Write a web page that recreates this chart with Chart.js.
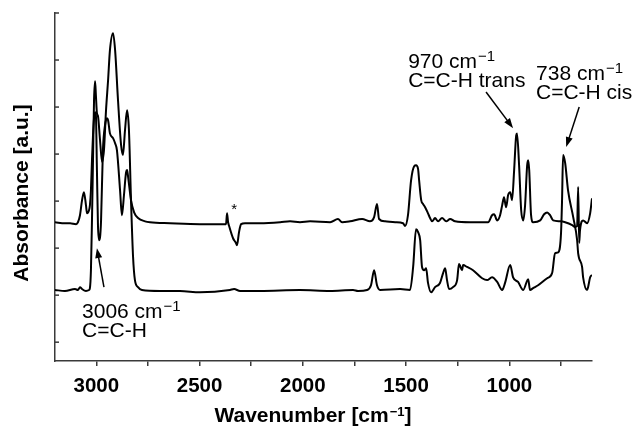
<!DOCTYPE html>
<html>
<head>
<meta charset="utf-8">
<script src="https://cdn.jsdelivr.net/npm/chart.js@4/dist/chart.umd.min.js"></script>
<style>
  body { margin: 0; background: #fff; }
  canvas { display: block; }
</style>
</head>
<body>
<canvas id="spectrum" width="637" height="429"></canvas>
<script>
// Нижний спектр (цис): волновое число, см-1 и поглощение, отн. ед.
const lowerWavenumber = [3200, 3152, 3103, 3089, 3079, 3069, 3050, 3035, 3031, 3026,
    3021, 3016, 3011, 3006, 3002, 2997, 2992, 2982, 2972, 2968,
    2963, 2953, 2943, 2934, 2919, 2909, 2895, 2880, 2871, 2861,
    2851, 2842, 2832, 2822, 2813, 2798, 2779, 2692, 2595, 2498,
    2353, 2333, 2304, 2207, 2014, 1868, 1757, 1733, 1689, 1670,
    1655, 1641, 1626, 1529, 1481, 1466, 1452, 1442, 1432, 1423,
    1413, 1403, 1394, 1379, 1360, 1336, 1321, 1311, 1302, 1292,
    1273, 1253, 1244, 1229, 1224, 1205, 1176, 1132, 1108, 1084,
    1059, 1035, 1021, 996, 982, 958, 933, 909, 900, 885,
    861, 817, 793, 779, 764, 750, 745, 740, 730, 716,
    691, 672, 667, 648, 643, 624, 619, 609, 600];
const lowerAbsorbance = [1.11, 1.09, 1.13, 1.11, 1.17, 1.13, 1.09, 1.11, 1.15, 1.53,
    2.59, 3.87, 5.15, 5.55, 5.25, 4.87, 4.81, 4.30, 3.83, 3.91,
    4.08, 4.93, 5.57, 6.21, 6.57, 6.21, 5.15, 4.19, 3.98, 4.51,
    4.93, 4.51, 3.02, 1.81, 1.32, 1.17, 1.11, 1.09, 1.09, 1.06,
    1.11, 1.13, 1.09, 1.09, 1.11, 1.09, 1.11, 1.09, 1.11, 1.21,
    1.53, 1.21, 1.11, 1.13, 1.11, 1.60, 2.40, 2.34, 2.17, 1.60,
    1.53, 1.57, 1.26, 1.06, 1.17, 1.26, 1.47, 1.57, 1.32, 1.13,
    1.17, 1.32, 1.66, 1.53, 1.64, 1.60, 1.53, 1.36, 1.32, 1.38,
    1.28, 1.11, 1.26, 1.64, 1.38, 1.28, 1.11, 1.34, 1.11, 1.15,
    1.21, 1.36, 1.47, 1.89, 1.91, 2.32, 3.02, 3.98, 3.81, 3.23,
    2.66, 2.17, 1.89, 1.60, 1.38, 1.11, 1.17, 1.38, 1.43];

// Верхний спектр (транс)
const upperWavenumber = [3200, 3152, 3127, 3098, 3089, 3079, 3069, 3060, 3050, 3045,
    3035, 3031, 3026, 3021, 3016, 3011, 3006, 3002, 2997, 2992,
    2987, 2982, 2977, 2968, 2958, 2948, 2943, 2934, 2919, 2909,
    2900, 2885, 2876, 2866, 2856, 2851, 2847, 2832, 2817, 2798,
    2764, 2740, 2643, 2498, 2372, 2367, 2362, 2357, 2338, 2324,
    2319, 2309, 2299, 2280, 2207, 2110, 2062, 2014, 1965, 1868,
    1830, 1810, 1771, 1713, 1675, 1655, 1641, 1631, 1602, 1553,
    1515, 1505, 1491, 1476, 1461, 1452, 1442, 1437, 1427, 1418,
    1408, 1394, 1384, 1374, 1360, 1345, 1326, 1306, 1287, 1263,
    1190, 1142, 1103, 1084, 1074, 1059, 1045, 1035, 1026, 1016,
    1006, 996, 987, 977, 967, 963, 953, 943, 933, 924,
    914, 909, 904, 895, 885, 851, 832, 817, 803, 788,
    754, 730, 696, 682, 672, 667, 662, 658, 643, 624,
    609, 600];
const upperAbsorbance = [2.55, 2.53, 2.53, 2.51, 2.55, 2.70, 3.02, 3.19, 2.91, 2.74,
    2.81, 2.91, 3.23, 3.87, 4.40, 4.76, 4.89, 4.83, 3.66, 2.49,
    2.17, 2.23, 2.59, 4.08, 4.61, 4.76, 4.72, 4.44, 4.34, 4.23,
    4.08, 3.23, 2.70, 3.13, 3.61, 3.66, 3.55, 3.02, 2.76, 2.64,
    2.57, 2.55, 2.53, 2.51, 2.51, 2.74, 2.55, 2.47, 2.21, 2.11,
    2.06, 2.34, 2.51, 2.53, 2.53, 2.55, 2.57, 2.55, 2.57, 2.55,
    2.62, 2.55, 2.57, 2.62, 2.57, 2.66, 2.94, 2.62, 2.57, 2.55,
    2.53, 2.47, 2.70, 3.44, 3.74, 3.76, 3.68, 3.44, 3.02, 2.94,
    2.87, 2.74, 2.64, 2.57, 2.64, 2.57, 2.64, 2.57, 2.62, 2.57,
    2.55, 2.55, 2.55, 2.70, 2.72, 2.59, 2.70, 2.91, 3.08, 2.87,
    3.13, 3.19, 3.02, 3.66, 4.40, 4.44, 3.76, 2.81, 2.59, 2.91,
    3.76, 3.87, 3.66, 2.70, 2.55, 2.59, 2.72, 2.76, 2.70, 2.59,
    2.57, 2.55, 2.49, 2.45, 2.47, 3.30, 2.11, 2.38, 2.59, 2.53,
    2.74, 3.06];

// Подписи пиков (первая строка, вторая строка, точка привязки)
const noteHeads = ["970 cm", "738 cm", "3006 cm"];
const noteNames = ["C=C-H trans", "C=C-H cis", "C=C-H"];
const noteWavenumber = [1490, 871, 3069];
const noteAbsorbance = [5.83, 5.57, 0.51];

// Стрелки: откуда и куда
const arrowFromWavenumber = [1113, 662, 2963];
const arrowFromAbsorbance = [5.32, 5.00, 1.17];
const arrowToWavenumber = [982, 725, 2997];
const arrowToAbsorbance = [4.55, 4.15, 2.00];

// Звёздочка у полосы CO2
const starWavenumber = 2333;
const starAbsorbance = 2.87;

const FONT = '"Liberation Sans", Arial, sans-serif';
const AXIS_COLOR = "#3a3a3a";
const SUP = "\u22121";

function toPoints(xs, ys) {
    return xs.map((x, i) => ({ x: x, y: ys[i] }));
}

// Текст с верхним индексом, возвращает ширину
function drawWithSup(ctx, base, tail, x, y, size, supSize, rise, weight, measureOnly) {
    ctx.font = `${weight} ${size}px ${FONT}`;
    let w = ctx.measureText(base).width;
    if (!measureOnly) ctx.fillText(base, x, y);
    ctx.font = `${weight} ${supSize}px ${FONT}`;
    if (!measureOnly) ctx.fillText(SUP, x + w + 1, y - rise);
    w += ctx.measureText(SUP).width + 1;
    if (tail) {
        ctx.font = `${weight} ${size}px ${FONT}`;
        if (!measureOnly) ctx.fillText(tail, x + w, y);
        w += ctx.measureText(tail).width;
    }
    return w;
}

function drawArrow(ctx, x1, y1, x2, y2) {
    const a = Math.atan2(y2 - y1, x2 - x1);
    const head = 10, half = 3.5;
    const c = Math.cos(a), s = Math.sin(a);
    ctx.beginPath();
    ctx.moveTo(x1, y1);
    ctx.lineTo(x2 - c * head * 0.7, y2 - s * head * 0.7);
    ctx.stroke();
    ctx.beginPath();
    ctx.moveTo(x2, y2);
    ctx.lineTo(x2 - c * head + s * half, y2 - s * head - c * half);
    ctx.lineTo(x2 - c * head - s * half, y2 - s * head + c * half);
    ctx.closePath();
    ctx.fill();
}

// Подписи осей, внутренние засечки, стрелки и надписи
const decorations = {
    id: "decorations",
    afterDraw(chart) {
        const ctx = chart.ctx;
        const xs = chart.scales.x;
        const ys = chart.scales.y;
        ctx.save();

        // засечки оси Y внутрь
        ctx.strokeStyle = AXIS_COLOR;
        ctx.lineWidth = 1.5;
        ys.ticks.forEach(t => {
            const py = ys.getPixelForValue(t.value);
            ctx.beginPath();
            ctx.moveTo(xs.left, py);
            ctx.lineTo(xs.left + 4, py);
            ctx.stroke();
        });

        ctx.fillStyle = "#000";
        ctx.strokeStyle = "#000";

        // подпись оси Y
        ctx.save();
        ctx.translate(22, 193);
        ctx.rotate(-Math.PI / 2);
        ctx.textAlign = "center";
        ctx.textBaseline = "middle";
        ctx.font = `bold 21px ${FONT}`;
        ctx.fillText("Absorbance [a.u.]", 0, 0);
        ctx.restore();

        // подпись оси X
        ctx.textAlign = "left";
        ctx.textBaseline = "alphabetic";
        let tw = drawWithSup(ctx, "Wavenumber [cm", "]", 0, 0, 21, 13, 6, "bold", true);
        drawWithSup(ctx, "Wavenumber [cm", "]", 313 - tw / 2, 422, 21, 13, 6, "bold", false);

        // подписи пиков
        noteHeads.forEach((head, i) => {
            const px = xs.getPixelForValue(noteWavenumber[i]);
            const py = ys.getPixelForValue(noteAbsorbance[i]);
            drawWithSup(ctx, head, "", px, py, 21, 15, 7, "normal", false);
            ctx.font = `normal 21px ${FONT}`;
            ctx.fillText(noteNames[i], px, py + 19);
        });

        // стрелки
        ctx.lineWidth = 1.5;
        arrowFromWavenumber.forEach((w, i) => {
            drawArrow(ctx,
                xs.getPixelForValue(w), ys.getPixelForValue(arrowFromAbsorbance[i]),
                xs.getPixelForValue(arrowToWavenumber[i]), ys.getPixelForValue(arrowToAbsorbance[i]));
        });

        // звёздочка
        ctx.textAlign = "center";
        ctx.textBaseline = "middle";
        ctx.font = `normal 15px ${FONT}`;
        ctx.fillText("*", xs.getPixelForValue(starWavenumber), ys.getPixelForValue(starAbsorbance) + 3);

        ctx.restore();
    }
};

const ctx = document.getElementById("spectrum").getContext("2d");
new Chart(ctx, {
    type: "line",
    data: {
        datasets: [{
            data: toPoints(upperWavenumber, upperAbsorbance),
            borderColor: "#000",
            borderWidth: 2,
            pointRadius: 0,
            fill: false,
            cubicInterpolationMode: "monotone"
        },
        {
            data: toPoints(lowerWavenumber, lowerAbsorbance),
            borderColor: "#000",
            borderWidth: 2,
            pointRadius: 0,
            fill: false,
            cubicInterpolationMode: "monotone"
        }]
    },
    options: {
        responsive: false,
        animation: false,
        devicePixelRatio: 1,
        layout: { padding: { left: 0, top: 13, right: 45, bottom: 0 } },
        scales: {
            x: {
                type: "linear",
                min: 600,
                max: 3200,
                reverse: true,
                afterFit: s => { s.height = 68; },
                border: { color: AXIS_COLOR, width: 1.5 },
                grid: { drawOnChartArea: false, drawTicks: true, tickLength: 5, color: AXIS_COLOR, lineWidth: 1.5 },
                ticks: {
                    stepSize: 250,
                    includeBounds: false,
                    autoSkip: false,
                    maxRotation: 0,
                    padding: 8,
                    color: "#000",
                    font: { family: FONT, size: 20.5, weight: "bold" },
                    callback: v => (v % 500 === 0 ? String(v) : "")
                }
            },
            y: {
                type: "linear",
                min: -0.4,
                max: 7,
                afterFit: s => { s.width = 55; },
                border: { color: AXIS_COLOR, width: 1.5 },
                grid: { display: false },
                ticks: { display: false, stepSize: 1, includeBounds: false }
            }
        },
        plugins: {
            legend: { display: false },
            tooltip: { enabled: false }
        }
    },
    plugins: [decorations]
});
</script>
</body>
</html>
